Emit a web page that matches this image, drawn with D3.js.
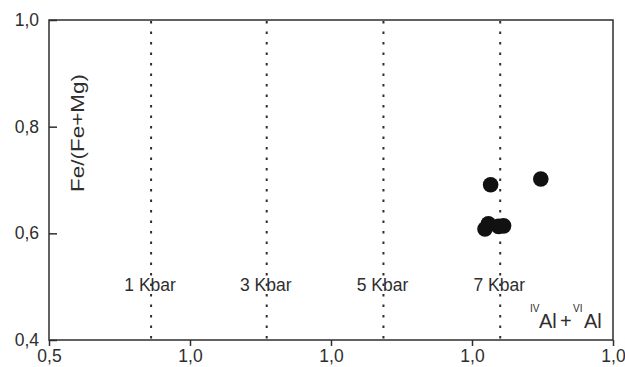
<!DOCTYPE html>
<html>
<head>
<meta charset="utf-8">
<script src="https://cdn.jsdelivr.net/npm/d3@7"></script>
<style>
  html, body { margin: 0; padding: 0; background: #fff; }
  svg { display: block; font-family: Arial, "Liberation Sans", Helvetica, sans-serif; }
</style>
</head>
<body>
<svg id="chart" width="625" height="367"></svg>
<script>
// Chlorite composition: Al(IV)+Al(VI) against Fe/(Fe+Mg)
const sampleAl = [1.283, 1.372, 1.273, 1.279, 1.297, 1.306];
const sampleFeRatio = [0.691, 0.702, 0.608, 0.618, 0.613, 0.614];

// Pressure isobars
const isobarNames = ["1 Kbar", "3 Kbar", "5 Kbar", "7 Kbar"];
const isobarAl = [0.681, 0.886, 1.093, 1.300];

// Axis ticks
const xTickValues = [0.5, 0.75, 1.0, 1.25, 1.5];
const xTickLabels = ["0,5", "1,0", "1,0", "1,0", "1,0"];
const yTickValues = [0.4, 0.6, 0.8, 1.0];
const yTickLabels = ["0,4", "0,6", "0,8", "1,0"];

const ink = "#2e2e2e";
const plot = { left: 49, right: 613, top: 20, bottom: 340 };

const svg = d3.select("#chart");

const x = d3.scaleLinear().domain([0.5, 1.5]).range([plot.left, plot.right]);
const y = d3.scaleLinear().domain([0.4, 1.0]).range([plot.bottom, plot.top]);

// Frame
svg.append("rect")
  .attr("x", plot.left).attr("y", plot.top)
  .attr("width", plot.right - plot.left).attr("height", plot.bottom - plot.top)
  .attr("fill", "none").attr("stroke", ink).attr("stroke-width", 1.5);

// Isobars (dotted)
svg.append("g").selectAll("line")
  .data(isobarAl)
  .join("line")
  .attr("x1", d => x(d)).attr("x2", d => x(d))
  .attr("y1", plot.top + 1).attr("y2", plot.bottom)
  .attr("stroke", ink).attr("stroke-width", 2)
  .attr("stroke-dasharray", "2.5,8");

svg.append("g").selectAll("text")
  .data(isobarNames)
  .join("text")
  .attr("x", (d, i) => x(isobarAl[i]) - 1)
  .attr("y", 291)
  .attr("text-anchor", "middle")
  .attr("font-size", 17.5)
  .attr("fill", ink)
  .text(d => d);

// X axis
const xAxis = d3.axisBottom(x)
  .tickValues(xTickValues)
  .tickFormat((d, i) => xTickLabels[i])
  .tickSize(6)
  .tickPadding(4);
const gx = svg.append("g").attr("transform", `translate(0,${plot.bottom})`).call(xAxis);
gx.select(".domain").remove();
gx.selectAll(".tick line").attr("stroke", ink).attr("stroke-width", 1.5);
gx.selectAll(".tick text").attr("font-size", 17.5).attr("fill", ink).attr("font-family", null);

// Y axis (ticks pointing inward)
const yAxis = d3.axisLeft(y)
  .tickValues(yTickValues)
  .tickFormat((d, i) => yTickLabels[i])
  .tickSize(-8)
  .tickPadding(10);
const gy = svg.append("g").attr("transform", `translate(${plot.left},0)`).call(yAxis);
gy.select(".domain").remove();
gy.selectAll(".tick line").attr("stroke", ink).attr("stroke-width", 1.5);
gy.selectAll(".tick text").attr("font-size", 17.5).attr("fill", ink).attr("font-family", null);

// Y axis title
svg.append("text")
  .attr("transform", "translate(84,133) rotate(-90)")
  .attr("text-anchor", "middle")
  .attr("font-size", 18)
  .attr("textLength", 118)
  .attr("lengthAdjust", "spacingAndGlyphs")
  .attr("fill", ink)
  .text("Fe/(Fe+Mg)");

// X axis title: IVAl + VIAl, each part placed explicitly
const xt = svg.append("g").attr("fill", ink);
xt.append("text").attr("x", 530).attr("y", 312).attr("font-size", 10).text("IV");
xt.append("text").attr("x", 539).attr("y", 328).attr("font-size", 20).text("Al");
xt.append("text").attr("x", 560).attr("y", 328).attr("font-size", 20).text("+");
xt.append("text").attr("x", 573).attr("y", 312).attr("font-size", 10).text("VI");
xt.append("text").attr("x", 584).attr("y", 328).attr("font-size", 20).text("Al");

// Samples
svg.append("g").selectAll("circle")
  .data(sampleAl)
  .join("circle")
  .attr("cx", d => x(d))
  .attr("cy", (d, i) => y(sampleFeRatio[i]))
  .attr("r", 7.8)
  .attr("fill", "#111");
</script>
</body>
</html>
